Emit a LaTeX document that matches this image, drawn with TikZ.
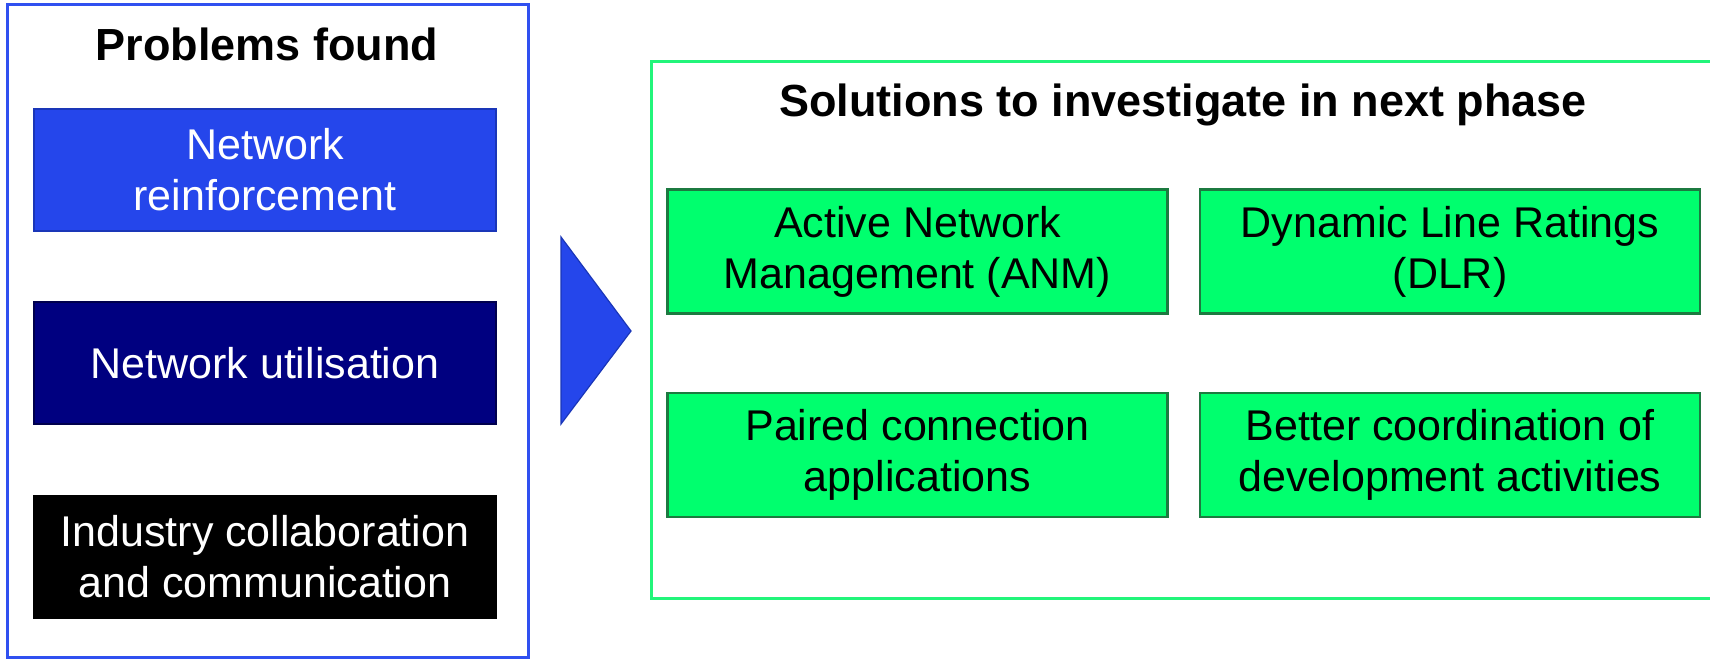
\documentclass[tikz,border=0pt]{standalone}
\usepackage{fontspec}
\setmainfont{Liberation Sans}
\definecolor{outerblue}{HTML}{3050F0}
\definecolor{boxblue}{HTML}{2546EB}
\definecolor{boxblueedge}{HTML}{1A36B8}
\definecolor{navy}{HTML}{000080}
\definecolor{brightgreen}{HTML}{00FF6E}
\definecolor{greenedge}{HTML}{1C7A40}
\definecolor{outergreen}{HTML}{22F57A}
\tikzset{
  probbox/.style={draw=#1, line width=2pt, minimum width=462pt, minimum height=122pt, inner sep=0pt, align=center, text=white, font=\fontsize{43}{51}\selectfont},
  solbox/.style={rectangle, fill=brightgreen, draw=greenedge, line width=2.5pt, minimum width=500pt, minimum height=124pt, inner sep=0pt, align=center, text=black, font=\fontsize{43}{51}\selectfont},
  titletext/.style={font=\bfseries\fontsize{45}{50}\selectfont, text=black, inner sep=0pt, anchor=base}
}
\begin{document}
\begin{tikzpicture}[x=1pt,y=-1pt]
\useasboundingbox (0,0) rectangle (1710,660);
\begin{scope}
\clip (0,0) rectangle (1710,660);
% outer frames
\draw[outerblue, line width=3pt] (7,5) rectangle (528,657);
\draw[outergreen, line width=3pt] (651,62) rectangle (1730,598);
\end{scope}
% titles
\node[titletext] (t1) at (267,61) {Problems found};
\node[titletext] (t2) at (1183,117) {Solutions to investigate in next phase};
% problem boxes
\node[probbox=boxblueedge, fill=boxblue] (p1) at (265,170) {Network\\reinforcement};
\node[probbox=navy!60!black, fill=navy] (p2) at (265,363) {Network utilisation};
\node[probbox=black, fill=black] (p3) at (265,557) {Industry collaboration\\and communication};
% arrow triangle
\coordinate (a1) at (561,237);
\coordinate (a2) at (631,331);
\coordinate (a3) at (561,424);
\filldraw[fill=boxblue, draw=boxblueedge, line width=1.2pt, line join=miter] (a1) -- (a2) -- (a3) -- cycle;
% solution boxes
\node[solbox] (s1) at (917.5,251.5) {Active Network\\Management (ANM)};
\node[solbox] (s2) at (1450,251.5) {Dynamic Line Ratings\\(DLR)};
\node[solbox] (s3) at (917.5,455) {Paired connection\\applications};
\node[solbox] (s4) at (1450,455) {Better coordination of\\development activities};
\end{tikzpicture}
\end{document}
